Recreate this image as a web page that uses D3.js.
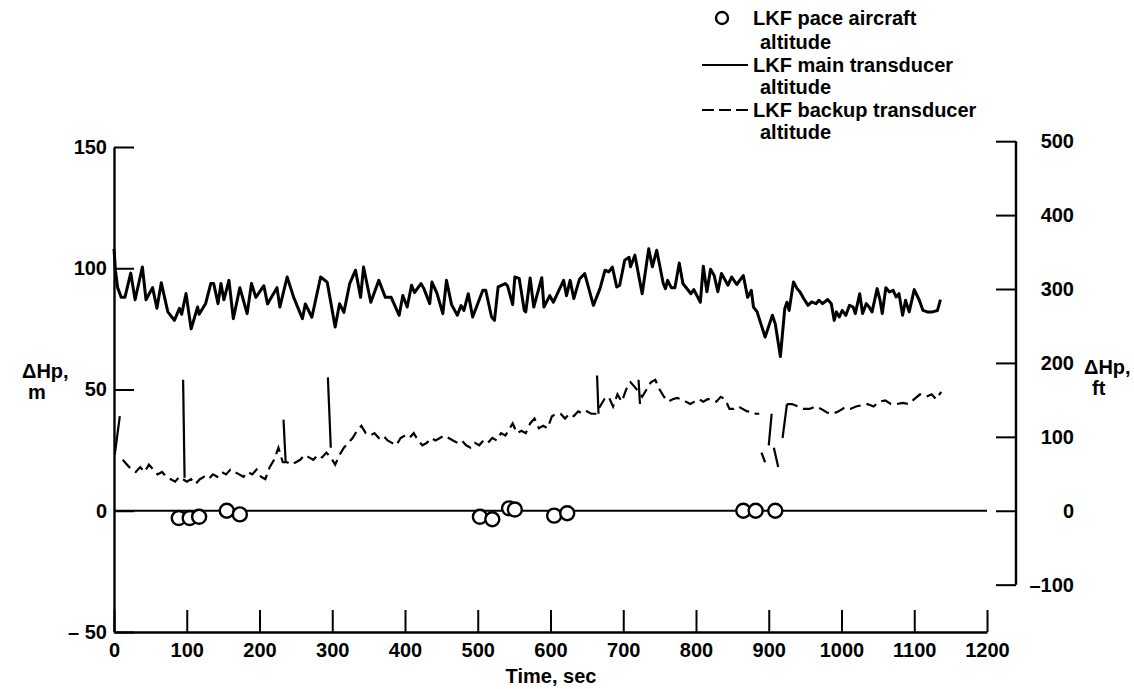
<!DOCTYPE html>
<html>
<head>
<meta charset="utf-8">
<script src="https://cdn.jsdelivr.net/npm/d3@7"></script>
<style>
  html, body { margin: 0; padding: 0; background: #fff; }
  svg { display: block; font-family: "Liberation Sans", Arial, Helvetica, sans-serif; font-weight: bold; }
</style>
</head>
<body>
<svg id="chart" width="1134" height="689"></svg>
<script>
// Tick values
const timeTicks = [0, 100, 200, 300, 400, 500, 600, 700, 800, 900, 1000, 1100, 1200];
const meterTicks = [-50, 0, 50, 100, 150];
const feetTicks = [-100, 0, 100, 200, 300, 400, 500];

// LKF pace aircraft altitude difference: [time s, ΔHp m]
const paceAltitude = [
  [89, -3], [104, -3], [117, -2.5], [155, 0], [173, -1.5],
  [503, -2.5], [520, -3.5], [543, 1], [551, 0.5], [605, -2], [623, -1],
  [865, 0], [882, 0], [909, 0]
];

// LKF main transducer altitude difference: [time s, ΔHp m]
const mainAltitude = [
  [0,108],[2,99],[5,92],[10,88],[15,88],[23,98],[29,87],[39,100.5],[44,87],[53,92],[59,83.5],
  [65,94],[74,82],[83,78.5],[90,83.5],[93,81],[99,89.6],[106,75],[115,84],[117,81],[126,85.5],
  [133,93.7],[137,93.7],[143,85.4],[147,93.7],[151,87],[158,95],[164,79.2],[173,92],[183,81.3],
  [189,93.7],[195,88],[206,92.8],[211,85.3],[224,92],[228,84],[238,96.4],[247,88],[259,79.2],
  [263,85.3],[272,79.8],[284,96.4],[293,94.3],[304,75.8],[310,85.4],[316,81.8],[324,93.7],
  [332,99.2],[339,88],[343,100.5],[353,86],[364,95],[373,88],[381,88],[392,80.6],[397,88.8],
  [403,84],[409,93],[413,90],[422,93.7],[426,91.6],[434,85.4],[437,94.3],[444,89.6],[452,81.3],
  [457,95],[464,85],[472,80.6],[477,84.6],[481,82.6],[487,89.5],[493,79.9],[507,90.9],[511,90.9],
  [519,79.9],[523,78.5],[528,92.3],[538,93.7],[541,92.7],[548,85],[551,96.4],[557,95.8],[564,82.6],
  [566,82],[572,96],[577,84],[588,96.1],[591,84],[599,88.7],[604,86],[618,95],[622,88.7],[627,95],
  [632,87.5],[640,95.6],[647,97.8],[659,84.7],[668,91.6],[675,99.2],[680,98.5],[685,100.5],
  [691,92.3],[695,92.9],[702,103.3],[708,104.5],[710,100.6],[716,105.4],[726,89.5],[735,108],
  [740,100.6],[746,107.4],[755,93.7],[758,91.6],[761,95],[766,92],[771,92],[777,102.2],[782,93.7],
  [793,89.5],[797,91.2],[806,86],[810,100.8],[815,90.3],[820,99.6],[825,97],[830,90.3],[835,97.8],
  [844,93],[849,96.4],[856,93.3],[865,97],[871,88],[876,90.9],[879,84],[884,82],[895,71.6],
  [905,80.6],[909,77],[916,63.6],[922,83.3],[925,86],[928,82.6],[934,94.3],[939,91.6],[943,90.2],
  [948,87.5],[954,84.7],[959,86.1],[965,85.4],[969,86.8],[974,85.4],[981,87.1],[986,85.4],
  [990,78.5],[993,82],[997,79.9],[1001,82.6],[1006,80.6],[1011,84.7],[1016,84],[1019,81.3],
  [1025,89.5],[1029,81.3],[1034,85.4],[1038,84],[1042,82],[1049,91.6],[1053,86.8],[1056,81.3],
  [1061,92],[1066,90.2],[1071,90.9],[1075,88.2],[1079,89.5],[1084,80.6],[1088,86.8],[1093,82],
  [1100,91.2],[1107,86.8],[1112,82.6],[1118,82],[1125,82],[1132,82.6],[1136,87.1]
];

// LKF backup transducer altitude difference: [time s, ΔHp m]; null marks a data gap
const backupAltitude = [
  [12,21],[18,19],[24,17],[30,16],[36,18],[42,16],[48,19],[54,17],[60,15],[66,16],[72,14],[78,13],
  [84,12],[90,14],[95,13],[100,12],[106,13],[112,11],[118,13],[124,14],[130,13],[136,15],[142,14],
  [148,16],[154,15],[160,17],[166,16],[172,15],[178,14],[184,16],[190,15],[196,17],[202,14],[208,13],
  [214,18],[220,21],[226,26],[232,20],[238,20],[244,19],[250,20],[256,21],[262,23],[268,22],[274,21],
  [280,23],[286,22],[292,24],[298,22],[304,19],[310,23],[316,26],[322,28],[328,30],[334,33],[340,35],
  [346,32],[352,31],[358,32],[364,30],[370,31],[376,29],[382,28],[388,27],[394,30],[400,31],[406,30],
  [412,32],[418,29],[424,27],[430,28],[436,30],[442,29],[448,30],[454,31],[460,30],[466,29],[472,28],
  [478,29],[484,27],[490,26],[496,28],[502,27],[508,29],[514,28],[520,30],[526,29],[532,32],[538,31],
  [544,34],[548,36],[554,32],[560,33],[566,32],[572,36],[578,38],[584,34],[590,35],[596,34],[602,39],
  [608,40],[614,40],[620,38],[626,40],[632,39],[638,41],[644,40],[650,41],[656,40],[662,40],[668,43],
  [674,46],[680,47],[686,43],[692,48],[698,45],[704,50],[710,53],[716,51],[726,47],[732,50],[738,53],
  [744,54],[750,50],[756,47],[762,45],[768,46],[774,46.5],[780,46],[786,45],[792,44],[798,45],[804,46],
  [810,45],[816,46],[822,46],[828,45],[834,47],[840,46],[846,42],[852,42],[858,43],[864,42],[870,41],
  [876,41],[882,40],[887,40],
  [888,null],
  [925,44],[932,44],[940,43],[948,42],[956,42],[964,43],[972,42],[980,40.5],[988,40],[996,41],
  [1004,42.5],[1012,42],[1020,43],[1028,43.5],[1036,44],[1044,43],[1052,45],[1060,45.5],[1068,44],
  [1076,44],[1084,44.5],[1092,44],[1100,46],[1108,48],[1116,47],[1124,48],[1130,46],[1137,49]
];

// Backup transducer jumps drawn as solid strokes: [t1, ΔHp1, t2, ΔHp2]
const backupSpikes = [
  [1,23, 8,39], [95,54, 97,13.6], [233,37.6, 236,19.8], [294,55, 298,26],
  [664,55.8, 666,40], [721,54, 723,44],
  [890,24, 895,20], [900,27, 904,40], [907,26, 913,18], [919,30, 925,44]
];

const svg = d3.select("#chart");
const FT_PER_M = 1 / 0.3048;

const x = d3.scaleLinear().domain([0, 1200]).range([114, 987]);
const yM = d3.scaleLinear().domain([-50, 150]).range([632, 147]);
const yFt = d3.scaleLinear().domain([-50 * FT_PER_M, 150 * FT_PER_M]).range([632, 147]);

const fontSize = 20;

function styleAxis(g) {
  g.selectAll("path.domain").attr("stroke", "#000").attr("stroke-width", 2.4);
  g.selectAll(".tick line").attr("stroke", "#000").attr("stroke-width", 2);
  g.selectAll(".tick text")
    .attr("fill", "#000")
    .style("font-size", fontSize + "px")
    .style("font-weight", "bold")
    .style("font-family", "\"Liberation Sans\", Arial, sans-serif");
}

const minusFmt = (gap) => d => d < 0 ? "\u2013" + gap + Math.abs(d) : String(d);

// Left axis (m)
const leftAxis = svg.append("g")
  .attr("transform", `translate(${x(0)},0)`)
  .call(d3.axisLeft(yM).tickValues(meterTicks).tickSize(-20).tickSizeOuter(0)
    .tickPadding(7).tickFormat(minusFmt(" ")));
styleAxis(leftAxis);

// Bottom axis (time)
const bottomAxis = svg.append("g")
  .attr("transform", `translate(0,${yM(-50)})`)
  .call(d3.axisBottom(x).tickValues(timeTicks).tickSize(-22).tickSizeOuter(0)
    .tickPadding(11).tickFormat(d => String(d)));
styleAxis(bottomAxis);

// Right axis (ft), spanning -100 to 500 ft
const rightAxis = svg.append("g")
  .attr("transform", "translate(1016,0)")
  .call(d3.axisRight(yFt).tickValues(feetTicks).tickSize(-20).tickSizeOuter(0)
    .tickFormat(minusFmt("")));
rightAxis.select("path.domain").remove();
rightAxis.append("line")
  .attr("x1", 0).attr("x2", 0)
  .attr("y1", yFt(500)).attr("y2", yFt(-100))
  .attr("stroke", "#000").attr("stroke-width", 2.4);
styleAxis(rightAxis);
rightAxis.selectAll(".tick text").attr("text-anchor", "end").attr("x", 58);

// Zero reference line
svg.append("line")
  .attr("x1", x(0)).attr("x2", x(1200))
  .attr("y1", yM(0)).attr("y2", yM(0))
  .attr("stroke", "#000").attr("stroke-width", 2.2);

// Axis titles
const title = (txt, xPos, yPos, anchor) => svg.append("text")
  .attr("x", xPos).attr("y", yPos).attr("text-anchor", anchor || "start")
  .style("font-size", fontSize + "px").text(txt);

title("Time, sec", 551, 683, "middle");
title("\u0394Hp,", 22, 378);
title("m", 28, 399);
title("\u0394Hp,", 1084, 374);
title("ft", 1092, 395);

// Main transducer trace
const line = d3.line()
  .defined(d => d[1] != null)
  .x(d => x(d[0]))
  .y(d => yM(d[1]));

svg.append("path")
  .datum(mainAltitude)
  .attr("d", line)
  .attr("fill", "none")
  .attr("stroke", "#000")
  .attr("stroke-width", 3)
  .attr("stroke-linejoin", "round");

// Backup transducer trace (dashed)
svg.append("path")
  .datum(backupAltitude)
  .attr("d", line)
  .attr("fill", "none")
  .attr("stroke", "#000")
  .attr("stroke-width", 2.2)
  .attr("stroke-dasharray", "11,6");

svg.append("g").selectAll("line")
  .data(backupSpikes)
  .join("line")
  .attr("x1", d => x(d[0])).attr("y1", d => yM(d[1]))
  .attr("x2", d => x(d[2])).attr("y2", d => yM(d[3]))
  .attr("stroke", "#000")
  .attr("stroke-width", 2.2);

// Pace aircraft points
svg.append("g").selectAll("circle")
  .data(paceAltitude)
  .join("circle")
  .attr("cx", d => x(d[0]))
  .attr("cy", d => yM(d[1]))
  .attr("r", 7)
  .attr("fill", "#fff")
  .attr("stroke", "#000")
  .attr("stroke-width", 2.4);

// Legend
const legend = svg.append("g");
legend.append("circle").attr("cx", 722).attr("cy", 18).attr("r", 6)
  .attr("fill", "#fff").attr("stroke", "#000").attr("stroke-width", 2.4);
legend.append("line").attr("x1", 702).attr("x2", 748).attr("y1", 65).attr("y2", 65)
  .attr("stroke", "#000").attr("stroke-width", 2);
legend.append("line").attr("x1", 702).attr("x2", 748).attr("y1", 110).attr("y2", 110)
  .attr("stroke", "#000").attr("stroke-width", 2).attr("stroke-dasharray", "12,5");

const legendRows = [
  ["LKF pace aircraft", 753, 25],
  ["altitude", 760, 49],
  ["LKF main transducer", 753, 72],
  ["altitude", 760, 94],
  ["LKF backup transducer", 753, 117],
  ["altitude", 760, 139]
];
legend.selectAll("text")
  .data(legendRows)
  .join("text")
  .attr("x", d => d[1]).attr("y", d => d[2])
  .style("font-size", fontSize + "px")
  .text(d => d[0]);
</script>
</body>
</html>
